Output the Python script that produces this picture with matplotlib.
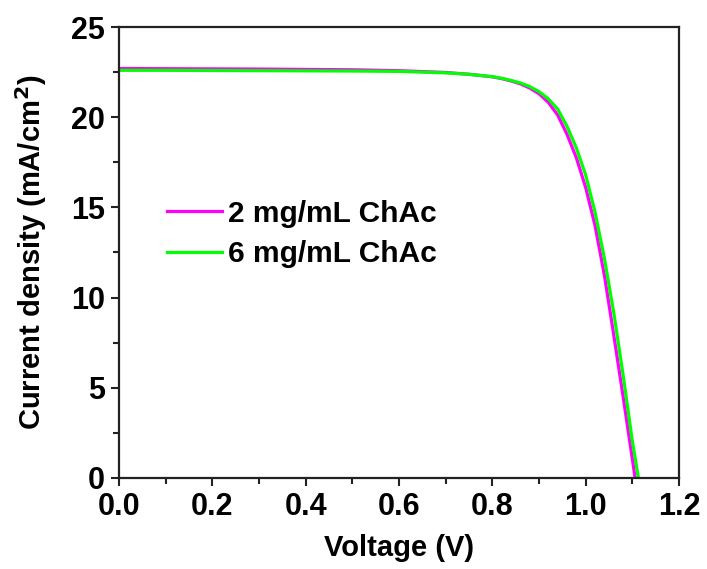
import matplotlib
matplotlib.use("Agg")
import matplotlib.pyplot as plt
from matplotlib.ticker import MultipleLocator

plt.rcParams['font.family'] = ['Liberation Sans', 'DejaVu Sans']
plt.rcParams['font.weight'] = 'bold'
plt.rcParams['mathtext.default'] = 'bf'

# J-V data
v_2mg = [0.0, 0.1, 0.2, 0.3, 0.4, 0.5, 0.6, 0.7, 0.75, 0.8, 0.82, 0.84, 0.86, 0.88,
         0.90, 0.92, 0.94, 0.96, 0.98, 1.00, 1.02, 1.04, 1.06, 1.08, 1.10, 1.106]
j_2mg = [22.70, 22.69, 22.68, 22.67, 22.65, 22.63, 22.58, 22.48, 22.38, 22.24,
         22.14, 22.01, 21.85, 21.62, 21.30, 20.82, 20.12, 19.05, 17.75, 16.10,
         14.00, 11.25, 7.95, 4.55, 1.05, 0.0]

v_6mg = [0.0, 0.1, 0.2, 0.3, 0.4, 0.5, 0.6, 0.7, 0.75, 0.8, 0.82, 0.84, 0.86, 0.88,
         0.90, 0.92, 0.94, 0.96, 0.98, 1.00, 1.02, 1.04, 1.06, 1.08, 1.10, 1.113]
j_6mg = [22.60, 22.60, 22.59, 22.58, 22.57, 22.56, 22.54, 22.46, 22.38, 22.25,
         22.16, 22.04, 21.90, 21.70, 21.42, 21.02, 20.45, 19.50, 18.30, 16.80,
         14.75, 12.20, 9.20, 5.75, 2.05, 0.0]

labels = ["2 mg/mL ChAc", "6 mg/mL ChAc"]
colors = ["#ff00ff", "#00ff00"]

fig = plt.figure(figsize=(7.07, 5.69), dpi=100)
ax = fig.add_axes([0.1683, 0.16, 0.7921, 0.7925])

ax.plot(v_2mg, j_2mg, color=colors[0], lw=2.3, label=labels[0])
ax.plot(v_6mg, j_6mg, color=colors[1], lw=2.3, label=labels[1])

ax.set_xlim(0, 1.2)
ax.set_ylim(0, 25)
ax.xaxis.set_major_locator(MultipleLocator(0.2))
ax.xaxis.set_minor_locator(MultipleLocator(0.1))
ax.yaxis.set_major_locator(MultipleLocator(5))
ax.yaxis.set_minor_locator(MultipleLocator(2.5))
ax.tick_params(which='both', direction='out', top=False, right=False,
               labelsize=22, width=1.5, color='#222222', pad=4)
ax.tick_params(which='major', length=6)
ax.tick_params(which='minor', length=4)
for lab in ax.get_xticklabels() + ax.get_yticklabels():
    lab.set_fontweight('bold')
for s in ax.spines.values():
    s.set_linewidth(1.6)
    s.set_color('#222222')

ax.set_xlabel("Voltage (V)", fontsize=21, fontweight='bold', labelpad=9)
ax.set_ylabel("Current density (mA/cm$^{\\mathbf{2}}$)", fontsize=21,
              fontweight='bold', labelpad=16)

leg = ax.legend(loc='center left', bbox_to_anchor=(0.086, 0.541), frameon=False,
                fontsize=21.5, handlelength=1.85, handletextpad=0.18,
                labelspacing=0.42, borderpad=0, borderaxespad=0)
for t in leg.get_texts():
    t.set_fontweight('bold')

fig.savefig("out.png", dpi=100)
